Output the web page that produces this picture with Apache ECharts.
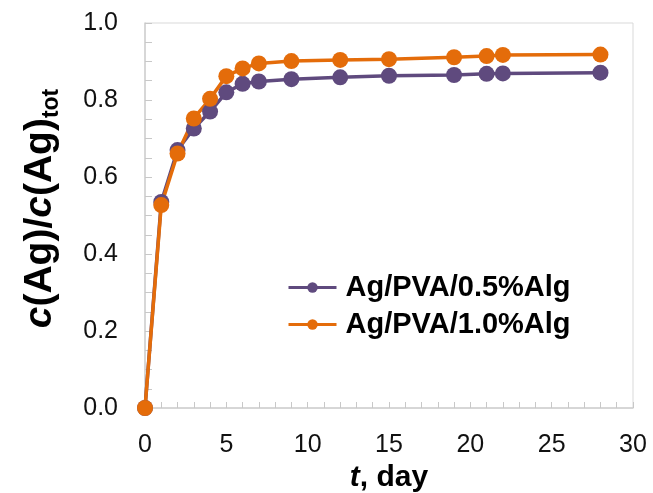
<!DOCTYPE html>
<html>
<head>
<meta charset="utf-8">
<script src="https://cdn.jsdelivr.net/npm/echarts@6/dist/echarts.min.js"></script>
<style>
html,body{margin:0;padding:0;background:#fff;}
#chart{width:653px;height:493px;}
</style>
</head>
<body>
<div id="chart"></div>
<script>
var days = [0, 1, 2, 3, 4, 5, 6, 7, 9, 12, 15, 19, 21, 22, 28];
var seriesNames = ['Ag/PVA/0.5%Alg', 'Ag/PVA/1.0%Alg'];
var alg05 = [0, 0.535, 0.670, 0.726, 0.770, 0.820, 0.842, 0.848, 0.854, 0.859, 0.863, 0.865, 0.868, 0.869, 0.871];
var alg10 = [0, 0.527, 0.661, 0.752, 0.803, 0.862, 0.882, 0.895, 0.901, 0.904, 0.906, 0.911, 0.914, 0.917, 0.918];
var colors = ['#5F4A7E', '#E46C0A'];

function pairs(xs, ys) { return xs.map(function (x, i) { return [x, ys[i]]; }); }

var font = 'Liberation Sans, Arial, sans-serif';
var chart = echarts.init(document.getElementById('chart'));
chart.setOption({
  animation: false,
  grid: { left: 145, top: 23, right: 20, bottom: 85, show: true, borderColor: '#D9D9D9', borderWidth: 1,
    containLabel: false, outerBoundsMode: 'none' },
  legend: {
    orient: 'vertical', left: 282, top: 268, itemGap: 8,
    itemWidth: 48, itemHeight: 13,
    lineStyle: { width: 3 },
    textStyle: { fontFamily: font, fontWeight: 'bold', fontSize: 29, color: '#000', padding: [0, 0, 0, 4] },
    data: seriesNames
  },
  xAxis: {
    type: 'value', min: 0, max: 30, interval: 5,
    axisLine: { lineStyle: { color: '#D0D0D0', width: 1.5 } },
    axisTick: { inside: true, length: 6, lineStyle: { color: '#C8C8C8' } },
    minorTick: { show: true, splitNumber: 5, length: 6, lineStyle: { color: '#C8C8C8' } },
    splitLine: { show: false },
    axisLabel: { fontFamily: font, fontSize: 25, color: '#111', margin: 25 },
    name: '{i|t}{b|, day}', nameLocation: 'middle', nameGap: 55,
    nameTextStyle: { rich: {
      i: { fontFamily: font, fontSize: 30, fontWeight: 'bold', fontStyle: 'italic', color: '#000' },
      b: { fontFamily: font, fontSize: 30, fontWeight: 'bold', color: '#000' }
    } }
  },
  yAxis: {
    type: 'value', min: 0, max: 1, interval: 0.2,
    axisLine: { show: true, lineStyle: { color: '#D0D0D0', width: 1.5 } },
    axisTick: { show: true, inside: true, length: 7, lineStyle: { color: '#C8C8C8' } },
    minorTick: { show: true, splitNumber: 4, length: 7, lineStyle: { color: '#C8C8C8' } },
    splitLine: { show: false },
    axisLabel: { fontFamily: font, fontSize: 25, color: '#111', margin: 27,
      formatter: function (v) { return v.toFixed(1); } },
    name: '{i|c}{b|(Ag)/}{i|c}{b|(Ag)}{s|tot}', nameLocation: 'middle', nameGap: 82, nameRotate: 90,
    nameTextStyle: { padding: [0, 0, 0, 14], rich: {
      i: { fontFamily: font, fontSize: 39, fontWeight: 'bold', fontStyle: 'italic', color: '#000', lineHeight: 46 },
      b: { fontFamily: font, fontSize: 39, fontWeight: 'bold', color: '#000', lineHeight: 46 },
      s: { fontFamily: font, fontSize: 23, fontWeight: 'bold', color: '#000', verticalAlign: 'bottom', lineHeight: 30, padding: [12, 0, 0, 0] }
    } }
  },
  series: [
    { name: seriesNames[0], type: 'line', data: pairs(days, alg05), symbol: 'circle', symbolSize: 16,
      lineStyle: { width: 3.5, color: colors[0] }, itemStyle: { color: colors[0] } },
    { name: seriesNames[1], type: 'line', data: pairs(days, alg10), symbol: 'circle', symbolSize: 16,
      lineStyle: { width: 3.5, color: colors[1] }, itemStyle: { color: colors[1] } }
  ]
});
</script>
</body>
</html>
